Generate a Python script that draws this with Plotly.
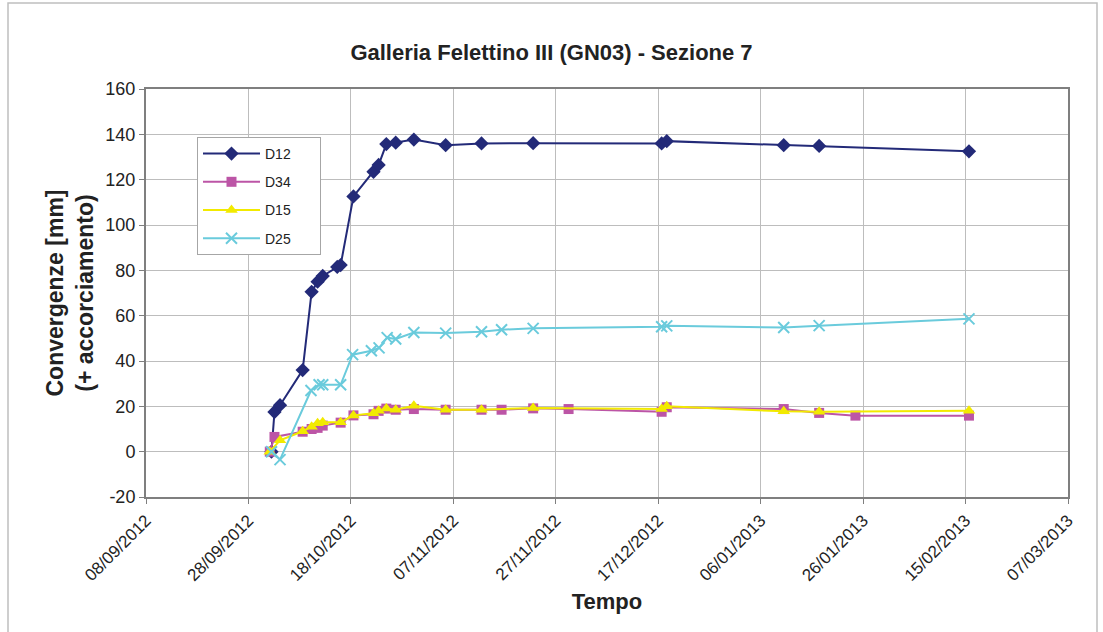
import plotly.graph_objects as go

# ---------------- data ----------------
d12_dates = ["2012-10-02 12:00", "2012-10-03 02:00", "2012-10-04 04:00", "2012-10-08 14:00",
             "2012-10-10 08:00", "2012-10-11 12:00", "2012-10-12 12:00", "2012-10-15 08:00",
             "2012-10-16 00:00", "2012-10-18 12:00", "2012-10-22 10:00", "2012-10-23 10:00",
             "2012-10-24 22:00", "2012-10-26 18:00", "2012-10-30 07:00", "2012-11-05 12:00",
             "2012-11-12 12:00", "2012-11-22 14:00", "2012-12-17 16:00", "2012-12-18 16:00",
             "2013-01-10 12:00", "2013-01-17 10:00", "2013-02-15 16:00"]
d12_vals = [0, 17.5, 20.5, 36, 70.5, 75, 77.5, 81.5, 82.3, 112.6, 123.5, 126.5, 135.7, 136.3,
            137.7, 135.2, 136.0, 136.1, 136.0, 137.0, 135.2, 134.9, 132.5]

d34_dates = ["2012-10-02 04:00", "2012-10-03 02:00", "2012-10-08 14:00", "2012-10-10 08:00",
             "2012-10-11 12:00", "2012-10-12 12:00", "2012-10-16 00:00", "2012-10-18 12:00",
             "2012-10-22 10:00", "2012-10-23 10:00", "2012-10-24 22:00", "2012-10-26 18:00",
             "2012-10-30 07:00", "2012-11-05 12:00", "2012-11-12 12:00", "2012-11-16 10:00",
             "2012-11-22 14:00", "2012-11-29 12:00", "2012-12-17 16:00", "2012-12-18 16:00",
             "2013-01-10 12:00", "2013-01-17 10:00", "2013-01-24 12:00", "2013-02-15 16:00"]
d34_vals = [0, 6.5, 8.8, 10.0, 10.5, 11.5, 12.8, 16.0, 16.5, 18.0, 19.0, 18.5, 18.8, 18.5,
            18.5, 18.5, 19.1, 18.8, 17.6, 19.6, 18.8, 17.1, 15.9, 15.9]

d15_dates = ["2012-10-02 04:00", "2012-10-04 04:00", "2012-10-08 14:00", "2012-10-10 08:00",
             "2012-10-11 12:00", "2012-10-12 12:00", "2012-10-16 00:00", "2012-10-18 12:00",
             "2012-10-22 10:00", "2012-10-23 10:00", "2012-10-24 22:00", "2012-10-26 18:00",
             "2012-10-30 07:00", "2012-11-05 12:00", "2012-11-12 12:00", "2012-11-22 14:00",
             "2012-12-17 16:00", "2012-12-18 16:00", "2013-01-10 12:00", "2013-01-17 10:00",
             "2013-02-15 16:00"]
d15_vals = [0, 5.0, 9.0, 11.0, 12.5, 13.0, 13.0, 16.0, 17.0, 18.0, 19.0, 18.5, 20.3, 18.5,
            18.5, 19.3, 18.8, 20.0, 17.8, 17.6, 18.0]

d25_dates = ["2012-10-02 12:00", "2012-10-04 04:00", "2012-10-10 05:00", "2012-10-11 19:00",
             "2012-10-12 12:00", "2012-10-16 00:00", "2012-10-18 08:00", "2012-10-22 00:00",
             "2012-10-23 12:00", "2012-10-25 02:00", "2012-10-26 18:00", "2012-10-30 07:00",
             "2012-11-05 12:00", "2012-11-12 12:00", "2012-11-16 10:00", "2012-11-22 14:00",
             "2012-12-17 16:00", "2012-12-18 16:00", "2013-01-10 12:00", "2013-01-17 10:00",
             "2013-02-15 16:00"]
d25_vals = [0, -3.5, 27.0, 29.5, 29.5, 29.5, 42.8, 44.5, 45.8, 50.3, 49.7, 52.6, 52.3, 52.9,
            53.8, 54.4, 55.1, 55.5, 54.8, 55.6, 58.6]

series_names = ["D12", "D34", "D15", "D25"]

x_tick_vals = ["2012-09-08", "2012-09-28", "2012-10-18", "2012-11-07", "2012-11-27",
               "2012-12-17", "2013-01-06", "2013-01-26", "2013-02-15", "2013-03-07"]
x_tick_text = ["08/09/2012", "28/09/2012", "18/10/2012", "07/11/2012", "27/11/2012",
               "17/12/2012", "06/01/2013", "26/01/2013", "15/02/2013", "07/03/2013"]
y_tick_vals = [-20, 0, 20, 40, 60, 80, 100, 120, 140, 160]
y_tick_text = ["-20", "0", "20", "40", "60", "80", "100", "120", "140", "160"]

title_text = "Galleria Felettino III (GN03) - Sezione 7"
y_title = "Convergenze [mm]<br>(+ accorciamento)"
x_title = "Tempo"

# ---------------- figure ----------------
FONT = "Liberation Sans, Arial, sans-serif"
PAD = "\u00a0" * 6  # widens the legend box to match the reference
fig = go.Figure()

fig.add_trace(go.Scatter(x=d12_dates, y=d12_vals, name=series_names[0] + PAD, mode="lines+markers",
                         legendgroup="a",
                         line=dict(color="#232A78", width=2),
                         marker=dict(symbol="diamond", size=11, color="#232A78")))
fig.add_trace(go.Scatter(x=d34_dates, y=d34_vals, name=series_names[1] + PAD, mode="lines+markers",
                         legendgroup="b",
                         line=dict(color="#BC55A6", width=2),
                         marker=dict(symbol="square", size=10, color="#BC55A6")))
fig.add_trace(go.Scatter(x=d15_dates, y=d15_vals, name=series_names[2] + PAD, mode="lines+markers",
                         legendgroup="c",
                         line=dict(color="#F2EA00", width=2),
                         marker=dict(symbol="triangle-up", size=11, color="#F2EA00")))
fig.add_trace(go.Scatter(x=d25_dates, y=d25_vals, name=series_names[3] + PAD, mode="lines+markers",
                         legendgroup="d",
                         line=dict(color="#6ACBDC", width=2),
                         marker=dict(symbol="x-thin", size=11, color="#6ACBDC",
                                     line=dict(color="#6ACBDC", width=2))))

fig.update_layout(
    width=1103, height=632,
    margin=dict(l=146, r=35, t=89, b=135),
    paper_bgcolor="white", plot_bgcolor="white",
    font=dict(family=FONT, size=15, color="#222222"),
    title=dict(text="<b>" + title_text + "</b>", x=0.5, xanchor="center",
               y=1 - 52 / 632, yanchor="middle",
               font=dict(family=FONT, size=22, color="#222222")),
    showlegend=True,
    legend=dict(x=(197 - 146) / 922, y=(497 - 137) / 408, xanchor="left", yanchor="top",
                bgcolor="white", bordercolor="#A6A6A6", borderwidth=1,
                font=dict(family=FONT, size=14, color="#222222"),
                tracegroupgap=7, itemwidth=57),
    xaxis=dict(type="date", range=["2012-09-08", "2013-03-07"],
               tickmode="array", tickvals=x_tick_vals, ticktext=x_tick_text,
               tickangle=-45, tickfont=dict(size=17),
               showgrid=True, gridcolor="#BDBDBD", gridwidth=1,
               showline=True, linecolor="#7F7F7F", linewidth=2, mirror=True,
               ticks="outside", ticklen=5, tickcolor="#7F7F7F",
               zeroline=False,
               title=dict(text="<b>" + x_title + "</b>", font=dict(size=22), standoff=10)),
    yaxis=dict(range=[-20, 160], tickmode="array", tickvals=y_tick_vals, ticktext=y_tick_text,
               tickfont=dict(size=18),
               showgrid=True, gridcolor="#BDBDBD", gridwidth=1,
               showline=True, linecolor="#7F7F7F", linewidth=2, mirror=True,
               ticks="outside", ticklen=5, tickcolor="#7F7F7F",
               zeroline=False,
               title=dict(text="<b>" + y_title + "</b>", font=dict(size=23), standoff=5)),
    shapes=[dict(type="rect", xref="paper", yref="paper",
                 x0=(8 - 146) / 922, x1=(1097 - 146) / 922,
                 y0=(497 - 660) / 408, y1=(497 - 3) / 408,
                 line=dict(color="#BFBFBF", width=1.5), layer="below")],
)

fig.write_html("out.html", config={"displayModeBar": False},
               post_script="document.body.style.margin='0';")
